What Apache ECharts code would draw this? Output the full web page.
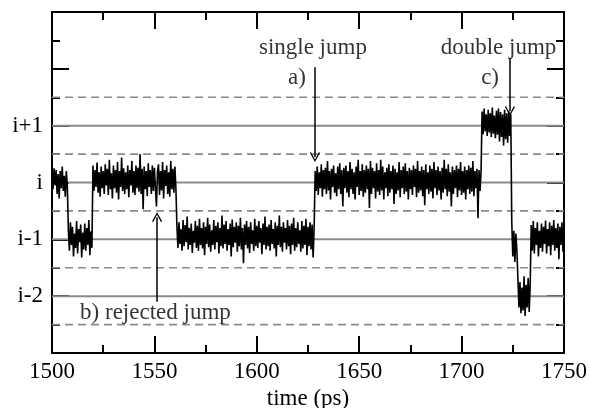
<!DOCTYPE html>
<html><head><meta charset="utf-8">
<script src="https://cdn.jsdelivr.net/npm/echarts@6/dist/echarts.min.js"></script>
<style>html,body{margin:0;padding:0;background:#fff}#c{width:590px;height:408px}</style>
</head><body><div id="c"></div>
<script>
// time axis sampling
const timeStart = 1500, timeStep = 0.5;
// signal (level units, i = 0), one value per 0.5 ps from 1500 to 1750
const signal = [
 0.18,-0.12,0.25,-0.05,0.22,-0.2,0.15,-0.28,0.2,-0.1,0.28,-0.15,0.12,-0.25,0.2,-0.08,
 -0.85,-1.2,-0.7,-1.1,-0.78,-1.3,-0.9,-1.15,-0.68,-1.25,
 -0.82,-1.05,-0.74,-1.32,-0.88,-1.18,-0.72,-1.2,-0.8,-1.1,
 -0.66,-1.28,-0.86,-1.15,
 0.3,-0.15,0.22,-0.08,0.35,-0.18,0.18,-0.25,0.28,-0.1,
 0.2,-0.2,0.32,-0.05,0.24,-0.22,0.4,-0.12,0.16,-0.28,
 0.3,-0.1,0.22,-0.18,0.36,-0.3,0.2,-0.08,0.44,-0.15,
 0.25,-0.2,0.18,-0.12,0.3,-0.26,0.22,-0.05,0.38,-0.18,
 0.2,-0.22,0.3,-0.1,0.26,-0.16,0.5,-0.2,0.24,-0.47,
 0.28,-0.12,0.2,-0.24,0.34,-0.08,0.22,-0.2,0.3,-0.15,
 0.26,-0.1,-0.42,0.18,0.32,-0.22,0.2,-0.14,0.36,-0.28,
 0.22,-0.06,0.3,-0.2,0.18,-0.25,0.38,-0.12,0.24,-0.18,
 0.28,-0.1,
 -0.78,-1.15,-0.7,-1.08,-0.82,-1.2,-0.66,-1.12,-0.75,-1.05,
 -0.6,-1.18,-0.8,-1.1,-0.72,-1.24,-0.85,-1.06,-0.68,-1.15,
 -0.76,-1.2,-0.64,-1.1,-0.8,-1.16,-0.7,-1.28,-0.78,-1.08,
 -0.62,-1.14,-0.74,-1.22,-0.84,-1.1,-0.66,-1.18,-0.76,-1.05,
 -0.7,-1.25,-0.8,-1.12,-0.58,-1.16,-0.74,-1.08,-0.68,-1.2,
 -0.82,-1.1,-0.72,-1.3,-0.65,-1.14,-0.78,-1.06,-0.7,-1.22,
 -0.76,-1.12,-0.62,-1.18,-0.8,-1.42,-0.74,-1.1,-0.68,-1.16,
 -0.78,-1.24,-0.7,-1.08,-0.84,-1.2,-0.64,-1.12,-0.76,-1.15,
 -0.68,-1.06,-0.8,-1.26,-0.72,-1.1,-0.6,-1.18,-0.78,-1.12,
 -0.74,-1.2,-0.66,-1.08,-0.82,-1.16,-0.7,-1.3,-0.76,-1.1,
 -0.58,-1.14,-0.78,-1.22,-0.7,-1.06,-0.8,-1.18,-0.66,-1.12,
 -0.76,-1.26,-0.72,-1.1,-0.62,-1.2,-0.8,-1.14,-0.7,-1.08,
 -0.84,-1.22,-0.68,-1.16,-0.76,-1.1,-0.64,-1.28,-0.78,-1.12,
 -0.7,-1.18,-0.74,-1.32,-0.8,
 0.2,-0.15,0.28,-0.22,0.18,-0.1,0.32,-0.25,0.22,-0.12,
 0.26,-0.2,0.38,-0.14,0.2,-0.3,0.24,-0.08,0.3,-0.18,
 0.16,-0.24,0.28,-0.12,0.34,-0.2,0.22,-0.42,0.26,-0.1,
 0.3,-0.18,0.2,-0.26,0.36,-0.12,0.24,-0.2,0.18,-0.3,
 0.28,-0.08,0.4,-0.22,0.2,-0.15,0.32,-0.25,0.22,-0.18,
 0.3,-0.12,0.24,-0.45,0.38,-0.2,0.26,-0.1,0.2,-0.28,
 0.34,-0.16,0.22,-0.22,0.4,-0.14,0.28,-0.3,0.18,-0.1,
 0.26,-0.24,0.32,-0.18,0.2,-0.12,0.3,-0.38,0.24,-0.2,
 0.18,-0.14,0.36,-0.26,0.22,-0.1,0.28,-0.2,0.34,-0.16,
 0.2,-0.3,0.26,-0.12,0.22,-0.22,0.3,-0.08,0.24,-0.26,
 0.38,-0.18,0.2,-0.14,0.28,-0.24,0.22,-0.4,0.32,-0.12,
 0.18,-0.2,0.3,-0.16,0.24,-0.28,0.36,-0.1,0.22,-0.22,
 0.28,-0.14,0.2,-0.3,0.26,-0.18,0.4,-0.12,0.24,-0.24,
 0.32,-0.16,0.18,-0.42,0.28,-0.2,0.22,-0.1,0.3,-0.26,
 0.24,-0.14,0.36,-0.22,0.2,-0.18,0.28,-0.3,0.22,-0.12,
 0.3,-0.2,0.26,-0.16,0.38,-0.24,0.2,-0.1,0.24,-0.63,
 0.22,-0.15,0.18,
 1.25,0.85,1.3,0.9,1.2,0.82,1.28,0.88,1.22,0.8,
 1.32,0.86,1.18,0.78,1.26,0.84,1.3,0.72,1.24,0.8,
 1.2,0.65,1.28,0.76,1.22,0.7,1.26,0.82,1.2,
 -0.7,-1.3,-0.85,-1.4,-0.9,-1.2,
 -1.7,-2.2,-1.75,-2.3,-1.85,-2.25,-1.65,-2.35,-1.8,-2.2,-1.68,-2.28,-1.8,
 -0.75,-1.2,-0.68,-1.25,-0.8,-1.1,-0.7,-1.3,-0.85,-1.15,
 -0.72,-1.22,-0.78,-1.08,-0.67,-1.25,-0.82,-1.12,-0.7,-1.28,
 -0.76,-1.1,-0.66,-1.2,-0.8,-1.15,-0.72,-1.35,-0.78,-1.1,
 -0.7,-1.22,-0.8
];
// reference levels
const solidLevels = [1, 0, -1, -2];
const dashedLevels = [1.5, 0.5, -0.5, -1.5, -2.5];
// y tick labels
const levelLabels = {'1': 'i+1', '0': 'i', '-1': 'i-1', '-2': 'i-2'};
// annotations
const noteTexts = ['single jump', 'a)', 'double jump', 'c)', 'b) rejected jump'];
const noteX = [1627.4, 1619.6, 1718.0, 1713.9, 1550.5];
const noteY = [2.37, 1.84, 2.36, 1.84, -2.30];
const arrowFrom = [[1628.4, 2.03], [1723.6, 2.19], [1551.3, -2.10]];
const arrowTo = [[1628.4, 0.45], [1723.6, 1.26], [1551.3, -0.61]];

const FONT = 'Liberation Serif';
const FS = 23;
const signalData = signal.map((v, k) => [timeStart + k * timeStep, v]);

const series = [];
solidLevels.forEach(l => series.push({
  type: 'line', data: [[1500, l], [1750, l]], symbol: 'none', silent: true, z: 1,
  lineStyle: {color: '#8a8a8a', width: 2}
}));
dashedLevels.forEach(l => series.push({
  type: 'line', data: [[1500, l], [1750, l]], symbol: 'none', silent: true, z: 1,
  lineStyle: {color: '#8a8a8a', width: 1.6, type: [8, 5]}
}));
series.push({
  type: 'line', data: signalData, symbol: 'none', z: 3, animation: false,
  lineStyle: {color: '#000', width: 1.6}
});
series.push({
  type: 'lines', coordinateSystem: 'cartesian2d', z: 4,
  symbol: ['none', 'path://M5,0 L10,9 L9,10 L5,2.5 L1,10 L0,9 Z'], symbolSize: [9, 10],
  lineStyle: {color: '#000', width: 1.5, opacity: 1},
  data: arrowFrom.map((f, i) => ({coords: [f, arrowTo[i]]}))
});
series.push({
  type: 'scatter', z: 5, symbolSize: 1, itemStyle: {color: 'rgba(0,0,0,0)'},
  data: noteTexts.map((t, i) => [noteX[i], noteY[i], t]),
  label: {show: true, position: 'inside', formatter: p => p.value[2],
    fontFamily: FONT, fontSize: FS, color: '#000'}
});

const xCommon = {
  type: 'value', min: 1500, max: 1750, interval: 50,
  axisLine: {show: true, onZero: false, lineStyle: {color: '#000', width: 2}},
  axisTick: {show: true, inside: true, length: 17, lineStyle: {color: '#000', width: 2}},
  minorTick: {show: true, splitNumber: 2, length: 8, lineStyle: {color: '#000', width: 2}},
  splitLine: {show: false}, minorSplitLine: {show: false}
};
const yCommon = {
  type: 'value', min: -3, max: 3, interval: 1,
  axisLine: {show: true, onZero: false, lineStyle: {color: '#000', width: 2}},
  axisTick: {show: true, inside: true, length: 17, lineStyle: {color: '#000', width: 2}},
  minorTick: {show: true, splitNumber: 2, length: 8, lineStyle: {color: '#000', width: 2}},
  splitLine: {show: false}, minorSplitLine: {show: false}
};

const chart = echarts.init(document.getElementById('c'), null, {renderer: 'canvas'});
chart.setOption({
  animation: false,
  backgroundColor: '#fff',
  grid: {left: 52, right: 26, top: 12, bottom: 55, containLabel: false, outerBoundsMode: 'none'},
  xAxis: [
    Object.assign({}, xCommon, {position: 'bottom',
      axisLabel: {show: true, fontFamily: FONT, fontSize: FS, color: '#000', margin: 7,
        formatter: v => String(v)},
      name: 'time (ps)', nameLocation: 'middle', nameGap: 32,
      nameTextStyle: {fontFamily: FONT, fontSize: FS, color: '#000'}}),
    Object.assign({}, xCommon, {position: 'top', axisLabel: {show: false}})
  ],
  yAxis: [
    Object.assign({}, yCommon, {position: 'left',
      axisLabel: {show: true, fontFamily: FONT, fontSize: FS, color: '#000', margin: 9,
        formatter: v => levelLabels[String(v)] || ''}}),
    Object.assign({}, yCommon, {position: 'right', axisLabel: {show: false}})
  ],
  series: series
});
</script>
</body></html>
